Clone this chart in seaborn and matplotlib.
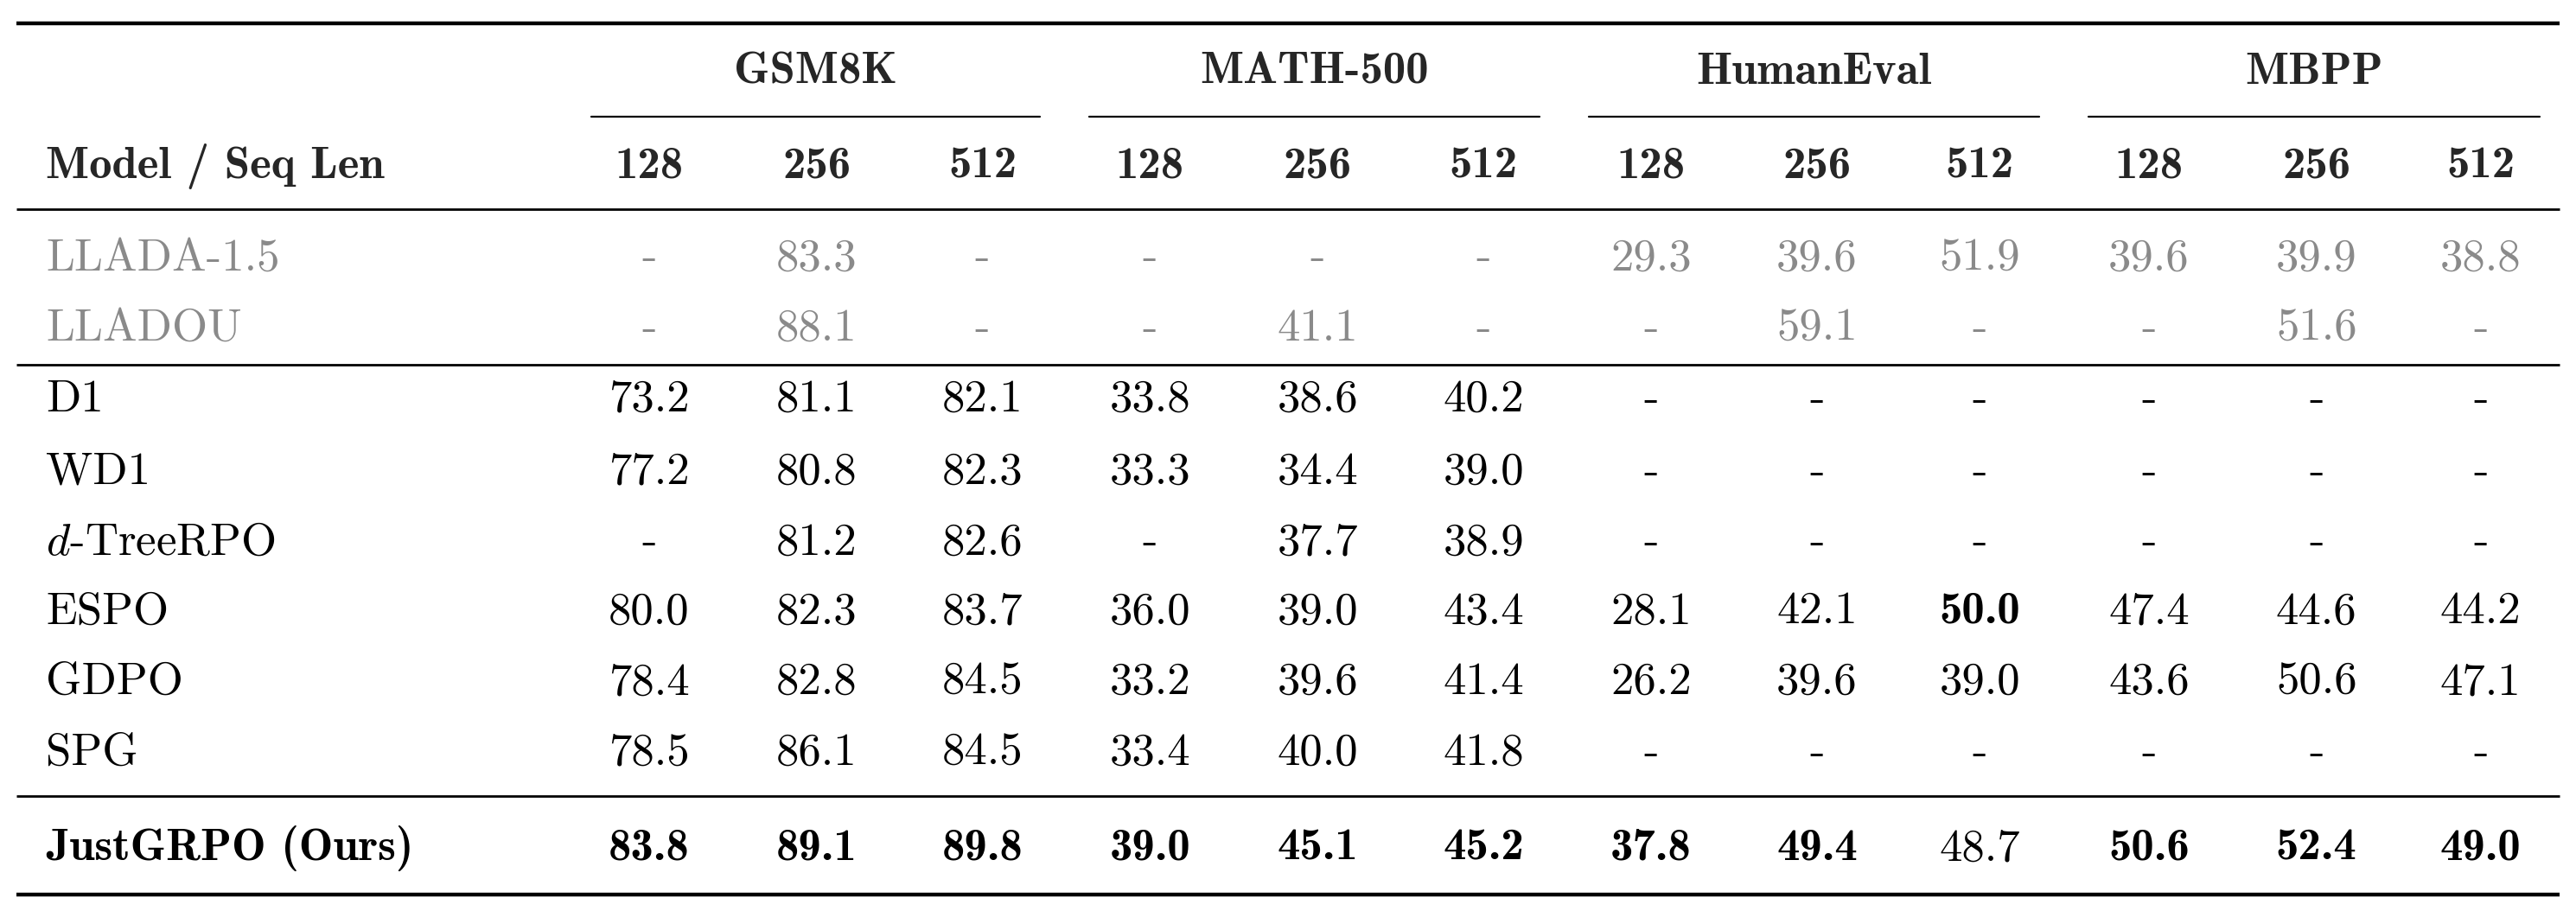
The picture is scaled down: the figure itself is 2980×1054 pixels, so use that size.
import matplotlib
matplotlib.use("Agg")
import matplotlib.pyplot as plt
import seaborn as sns

sns.set_theme(style="white")
plt.rcParams['font.family'] = ['cmr10', 'DejaVu Serif']
plt.rcParams['mathtext.fontset'] = 'cm'
plt.rcParams['axes.unicode_minus'] = False

groups = ["GSM8K", "MATH-500", "HumanEval", "MBPP"]
seq_lens = ["128", "256", "512"]
models = ["LLADA-1.5", "LLADOU", "D1", "WD1", "$d$-TreeRPO", "ESPO", "GDPO", "SPG", "JustGRPO (Ours)"]
vals = [
    ["-", "83.3", "-", "-", "-", "-", "29.3", "39.6", "51.9", "39.6", "39.9", "38.8"],
    ["-", "88.1", "-", "-", "41.1", "-", "-", "59.1", "-", "-", "51.6", "-"],
    ["73.2", "81.1", "82.1", "33.8", "38.6", "40.2", "-", "-", "-", "-", "-", "-"],
    ["77.2", "80.8", "82.3", "33.3", "34.4", "39.0", "-", "-", "-", "-", "-", "-"],
    ["-", "81.2", "82.6", "-", "37.7", "38.9", "-", "-", "-", "-", "-", "-"],
    ["80.0", "82.3", "83.7", "36.0", "39.0", "43.4", "28.1", "42.1", "50.0", "47.4", "44.6", "44.2"],
    ["78.4", "82.8", "84.5", "33.2", "39.6", "41.4", "26.2", "39.6", "39.0", "43.6", "50.6", "47.1"],
    ["78.5", "86.1", "84.5", "33.4", "40.0", "41.8", "-", "-", "-", "-", "-", "-"],
    ["83.8", "89.1", "89.8", "39.0", "45.1", "45.2", "37.8", "49.4", "48.7", "50.6", "52.4", "49.0"],
]
bold_cells = {(5, 8)} | {(8, j) for j in range(12) if j != 8}
gray_rows = {0, 1}

fig = plt.figure(figsize=(29.8, 10.54), dpi=100)
ax = fig.add_axes([0, 0, 1, 1])
ax.set_xlim(0, 1568)
ax.set_ylim(554, 0)
ax.axis('off')

fs = 38
col_x = [395, 497, 598, 700, 802, 903, 1005, 1106, 1205, 1308, 1410, 1510]
row_y = [157, 200, 243, 287, 330, 372, 415, 458, 516]
grp_x = [497, 800, 1105, 1410]
under = [(360, 633), (663, 937), (967, 1241), (1271, 1546)]

def rule(y, lw):
    ax.plot([10, 1558], [y, y], color='black', lw=lw, solid_capstyle='butt')

rule(14, 3.2); rule(127, 2.0); rule(222, 2.0); rule(484, 2.0); rule(544, 3.2)

for g, x, (a, b) in zip(groups, grp_x, under):
    cx = (a + b) / 2
    ax.text(cx, 44, g, ha='center', va='center', fontsize=fs, family=['cmb10', 'DejaVu Serif'])
    ax.plot([a, b], [71, 71], color='black', lw=1.6)

ax.text(28, 101, "Model / Seq Len", ha='left', va='center', fontsize=fs, family=['cmb10', 'DejaVu Serif'])
for j, x in enumerate(col_x):
    ax.text(x, 101, seq_lens[j % 3], ha='center', va='center', fontsize=fs, family=['cmb10', 'DejaVu Serif'])

for i, (m, y) in enumerate(zip(models, row_y)):
    color = '#8a8a8a' if i in gray_rows else 'black'
    fam = ['cmb10', 'DejaVu Serif'] if i == 8 else ['cmr10', 'DejaVu Serif']
    ax.text(28, y, m, ha='left', va='center', fontsize=fs, family=fam, color=color)
    for j, x in enumerate(col_x):
        f = ['cmb10', 'DejaVu Serif'] if (i, j) in bold_cells else ['cmr10', 'DejaVu Serif']
        ax.text(x, y, vals[i][j], ha='center', va='center', fontsize=fs, family=f, color=color)

fig.savefig("out.png", dpi=100, facecolor='white')
